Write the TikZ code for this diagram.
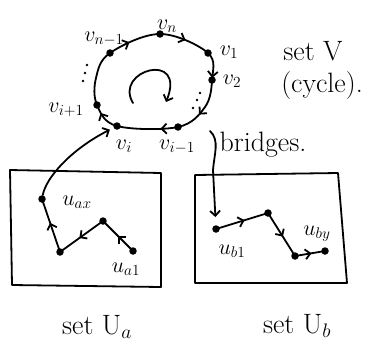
\RequirePackage{fix-cm}
\documentclass[tikz,border=0pt]{standalone}
\usepackage{fontspec}
\usetikzlibrary{arrows.meta,decorations.markings}
\tikzset{
  pen/.style={line width=1.8pt, line cap=round, line join=round},
  hb/.tip={Straight Barb[length=5pt,width=10pt]},
  dot/.style={circle, fill, inner sep=0pt, minimum size=7.5pt},
  lbl/.style={font=\fontsize{22}{24}\selectfont, inner sep=0pt},
  txt/.style={font=\fontsize{28}{30}\selectfont, inner sep=0pt},
  midarrow/.style={postaction={decorate}, decoration={markings, mark=at position #1 with {\arrow{hb}}}},
}
\begin{document}
\begin{tikzpicture}[x=1pt,y=-1pt]
\useasboundingbox (0,0) rectangle (369,341);
% cycle vertices
\node[dot] (vn)  at (160,34) {};
\node[dot] (v1)  at (208,53) {};
\node[dot] (v2)  at (212,80) {};
\coordinate (cR) at (205,107);
\node[dot] (vim) at (178,127) {};
\node[dot] (vi)  at (117,126) {};
\node[dot] (vip) at (97,105) {};
\coordinate (cL) at (96,78);
\node[dot] (vnm) at (110,53) {};
\draw[pen, postaction={decorate}, decoration={markings,
  mark=at position 0.076 with {\arrow{hb}},
  mark=at position 0.192 with {\arrow{hb}},
  mark=at position 0.315 with {\arrow{hb}},
  mark=at position 0.503 with {\arrow{hb}},
  mark=at position 0.757 with {\arrow{hb}},
  mark=at position 0.925 with {\arrow{hb}}}]
  plot[smooth cycle, tension=0.6] coordinates {(vn.center) (v1.center) (v2.center) (cR) (vim.center) (vi.center) (vip.center) (cL) (vnm.center)};
% inner curl
\draw[pen, -{hb}] (133,103) .. controls (113,70) and (187,50) .. (166,102);
% ellipsis dots
\fill (87,65) circle (1.3pt);
\fill (85,73) circle (1.3pt);
\fill (83,81) circle (1.3pt);
\fill (200,93) circle (1.3pt);
\fill (197,100) circle (1.3pt);
\fill (193,108) circle (1.3pt);
% cycle labels
\node[lbl] (lvn)  at (167,26) {$v_n$};
\node[lbl] (lvnm) at (104,39) {$v_{n-1}$};
\node[lbl] (lv1)  at (229,52) {$v_1$};
\node[lbl] (lv2)  at (232,81) {$v_2$};
\node[lbl] (lvip) at (66,110) {$v_{i+1}$};
\node[lbl] (lvi)  at (124,146) {$v_i$};
\node[lbl] (lvim) at (177,147) {$v_{i-1}$};
\node[txt] (setV) at (313,51) {set V};
\node[txt] (cyc)  at (322,86) {(cycle).};
\node[txt] (brg)  at (263,145) {bridges.};
% set Ua
\draw[pen] (10,170) -- (161,173) -- (161,287) -- (12,285) -- cycle;
\node[dot] (uax) at (42,199) {};
\node[dot] (p2)  at (60,252) {};
\node[dot] (p3)  at (103,221) {};
\node[dot] (ua1) at (133,251) {};
\draw[pen, midarrow=0.5] (ua1.center) -- (p3.center);
\draw[pen, midarrow=0.55] (p3.center) -- (p2.center);
\draw[pen, midarrow=0.55] (p2.center) -- (uax.center);
\node[lbl] (luax) at (77,202) {$u_{ax}$};
\node[lbl] (lua1) at (126,269) {$u_{a1}$};
\node[txt] (setUa) at (97,327) {set U$_a$};
% set Ub
\draw[pen] (195,175) -- (338,173) -- (347,283) -- (195,283) -- cycle;
\node[dot] (ub1) at (216,229) {};
\node[dot] (q2)  at (268,213) {};
\node[dot] (q3)  at (295,256) {};
\node[dot] (uby) at (325,251) {};
\draw[pen, midarrow=0.55] (ub1.center) -- (q2.center);
\draw[pen, midarrow=0.55] (q2.center) -- (q3.center);
\draw[pen, midarrow=0.55] (q3.center) -- (uby.center);
\node[lbl] (lub1) at (232,251) {$u_{b1}$};
\node[lbl] (luby) at (317,234) {$u_{by}$};
\node[txt] (setUb) at (297,326) {set U$_b$};
% bridges
\draw[pen, -{hb}, shorten <=4pt, shorten >=8pt] (uax.center) .. controls (46,178) and (70,150) .. (vi.center);
\coordinate (bs) at (210,131);
\draw[pen, -{hb}, shorten >=12pt] (bs) .. controls (220,140) and (214,155) .. (213,170) -- (ub1.center);
\end{tikzpicture}
\end{document}
